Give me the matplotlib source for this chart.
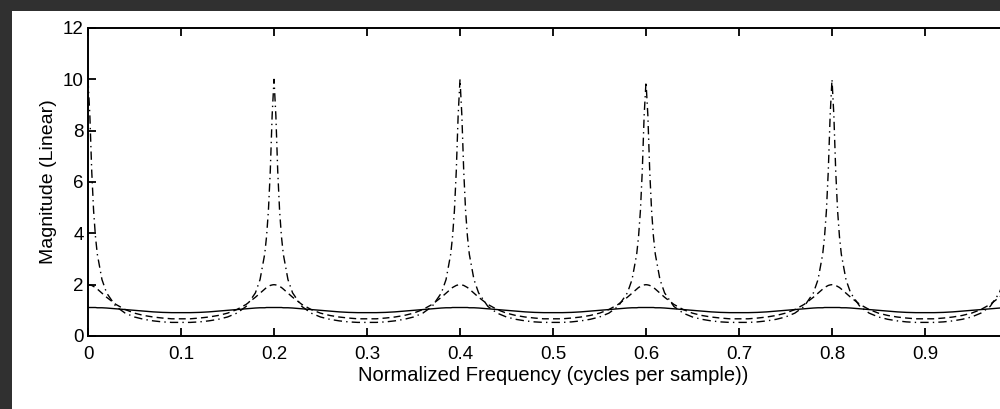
import matplotlib
matplotlib.use("Agg")
import matplotlib.pyplot as plt
from matplotlib.patches import Rectangle

# Frequency grid (cycles per sample), read per period
freq = [
    0.000, 0.002, 0.004, 0.006, 0.008, 0.010, 0.015, 0.020, 0.030, 0.040,
    0.050, 0.060, 0.070, 0.080, 0.090, 0.100, 0.110, 0.120, 0.130, 0.140,
    0.150, 0.160, 0.170, 0.180, 0.185, 0.190, 0.192, 0.194, 0.196, 0.198,
    0.200, 0.202, 0.204, 0.206, 0.208, 0.210, 0.215, 0.220, 0.230, 0.240,
    0.250, 0.260, 0.270, 0.280, 0.290, 0.300, 0.310, 0.320, 0.330, 0.340,
    0.350, 0.360, 0.370, 0.380, 0.385, 0.390, 0.392, 0.394, 0.396, 0.398,
    0.400, 0.402, 0.404, 0.406, 0.408, 0.410, 0.415, 0.420, 0.430, 0.440,
    0.450, 0.460, 0.470, 0.480, 0.490, 0.500, 0.510, 0.520, 0.530, 0.540,
    0.550, 0.560, 0.570, 0.580, 0.585, 0.590, 0.592, 0.594, 0.596, 0.598,
    0.600, 0.602, 0.604, 0.606, 0.608, 0.610, 0.615, 0.620, 0.630, 0.640,
    0.650, 0.660, 0.670, 0.680, 0.690, 0.700, 0.710, 0.720, 0.730, 0.740,
    0.750, 0.760, 0.770, 0.780, 0.785, 0.790, 0.792, 0.794, 0.796, 0.798,
    0.800, 0.802, 0.804, 0.806, 0.808, 0.810, 0.815, 0.820, 0.830, 0.840,
    0.850, 0.860, 0.870, 0.880, 0.890, 0.900, 0.910, 0.920, 0.930, 0.940,
    0.950, 0.960, 0.970, 0.980, 0.985, 0.990, 0.992, 0.994, 0.996, 0.998,
    1.000,
]

# Solid curve (small ripple around 1)
mag_solid = [
    1.11, 1.11, 1.11, 1.11, 1.11, 1.10, 1.10, 1.09, 1.06, 1.03,
    1.00, 0.97, 0.94, 0.92, 0.91, 0.91, 0.91, 0.92, 0.94, 0.97,
    1.00, 1.03, 1.06, 1.09, 1.10, 1.10, 1.11, 1.11, 1.11, 1.11,
    1.11, 1.11, 1.11, 1.11, 1.11, 1.10, 1.10, 1.09, 1.06, 1.03,
    1.00, 0.97, 0.94, 0.92, 0.91, 0.91, 0.91, 0.92, 0.94, 0.97,
    1.00, 1.03, 1.06, 1.09, 1.10, 1.10, 1.11, 1.11, 1.11, 1.11,
    1.11, 1.11, 1.11, 1.11, 1.11, 1.10, 1.10, 1.09, 1.06, 1.03,
    1.00, 0.97, 0.94, 0.92, 0.91, 0.91, 0.91, 0.92, 0.94, 0.97,
    1.00, 1.03, 1.06, 1.09, 1.10, 1.10, 1.11, 1.11, 1.11, 1.11,
    1.11, 1.11, 1.11, 1.11, 1.11, 1.10, 1.10, 1.09, 1.06, 1.03,
    1.00, 0.97, 0.94, 0.92, 0.91, 0.91, 0.91, 0.92, 0.94, 0.97,
    1.00, 1.03, 1.06, 1.09, 1.10, 1.10, 1.11, 1.11, 1.11, 1.11,
    1.11, 1.11, 1.11, 1.11, 1.11, 1.10, 1.10, 1.09, 1.06, 1.03,
    1.00, 0.97, 0.94, 0.92, 0.91, 0.91, 0.91, 0.92, 0.94, 0.97,
    1.00, 1.03, 1.06, 1.09, 1.10, 1.10, 1.11, 1.11, 1.11, 1.11,
    1.11,
]

# Dashed curve (peaks near 2)
mag_dashed = [
    2.00, 1.99, 1.97, 1.93, 1.89, 1.83, 1.67, 1.51, 1.23, 1.03,
    0.89, 0.80, 0.74, 0.70, 0.67, 0.67, 0.67, 0.70, 0.74, 0.80,
    0.89, 1.03, 1.23, 1.51, 1.67, 1.83, 1.89, 1.93, 1.97, 1.99,
    2.00, 1.99, 1.97, 1.93, 1.89, 1.83, 1.67, 1.51, 1.23, 1.03,
    0.89, 0.80, 0.74, 0.70, 0.67, 0.67, 0.67, 0.70, 0.74, 0.80,
    0.89, 1.03, 1.23, 1.51, 1.67, 1.83, 1.89, 1.93, 1.97, 1.99,
    2.00, 1.99, 1.97, 1.93, 1.89, 1.83, 1.67, 1.51, 1.23, 1.03,
    0.89, 0.80, 0.74, 0.70, 0.67, 0.67, 0.67, 0.70, 0.74, 0.80,
    0.89, 1.03, 1.23, 1.51, 1.67, 1.83, 1.89, 1.93, 1.97, 1.99,
    2.00, 1.99, 1.97, 1.93, 1.89, 1.83, 1.67, 1.51, 1.23, 1.03,
    0.89, 0.80, 0.74, 0.70, 0.67, 0.67, 0.67, 0.70, 0.74, 0.80,
    0.89, 1.03, 1.23, 1.51, 1.67, 1.83, 1.89, 1.93, 1.97, 1.99,
    2.00, 1.99, 1.97, 1.93, 1.89, 1.83, 1.67, 1.51, 1.23, 1.03,
    0.89, 0.80, 0.74, 0.70, 0.67, 0.67, 0.67, 0.70, 0.74, 0.80,
    0.89, 1.03, 1.23, 1.51, 1.67, 1.83, 1.89, 1.93, 1.97, 1.99,
    2.00,
]

# Dash-dot curve (sharp peaks near 10)
mag_dashdot = [
    10.0, 8.59, 6.43, 4.89, 3.88, 3.19, 2.20, 1.68, 1.15, 0.89,
    0.74, 0.65, 0.59, 0.55, 0.53, 0.53, 0.53, 0.55, 0.59, 0.65,
    0.74, 0.89, 1.15, 1.68, 2.20, 3.19, 3.88, 4.89, 6.43, 8.59,
    10.0, 8.59, 6.43, 4.89, 3.88, 3.19, 2.20, 1.68, 1.15, 0.89,
    0.74, 0.65, 0.59, 0.55, 0.53, 0.53, 0.53, 0.55, 0.59, 0.65,
    0.74, 0.89, 1.15, 1.68, 2.20, 3.19, 3.88, 4.89, 6.43, 8.59,
    10.0, 8.59, 6.43, 4.89, 3.88, 3.19, 2.20, 1.68, 1.15, 0.89,
    0.74, 0.65, 0.59, 0.55, 0.53, 0.53, 0.53, 0.55, 0.59, 0.65,
    0.74, 0.89, 1.15, 1.68, 2.20, 3.19, 3.88, 4.89, 6.43, 8.59,
    9.90, 8.59, 6.43, 4.89, 3.88, 3.19, 2.20, 1.68, 1.15, 0.89,
    0.74, 0.65, 0.59, 0.55, 0.53, 0.53, 0.53, 0.55, 0.59, 0.65,
    0.74, 0.89, 1.15, 1.68, 2.20, 3.19, 3.88, 4.89, 6.43, 8.59,
    10.0, 8.59, 6.43, 4.89, 3.88, 3.19, 2.20, 1.68, 1.15, 0.89,
    0.74, 0.65, 0.59, 0.55, 0.53, 0.53, 0.53, 0.55, 0.59, 0.65,
    0.74, 0.89, 1.15, 1.68, 2.20, 3.19, 3.88, 4.89, 6.43, 8.59,
    10.0,
]

x_ticks = [0, 0.1, 0.2, 0.3, 0.4, 0.5, 0.6, 0.7, 0.8, 0.9]
x_ticklabels = ["0", "0.1", "0.2", "0.3", "0.4", "0.5", "0.6", "0.7", "0.8", "0.9"]
y_ticks = [0, 2, 4, 6, 8, 10, 12]
y_ticklabels = ["0", "2", "4", "6", "8", "10", "12"]

plt.rcParams["font.family"] = ["Liberation Sans", "DejaVu Sans"]

W, H = 1000, 409
fig = plt.figure(figsize=(W / 100, H / 100), dpi=100)
fig.patch.set_facecolor("#303030")
# white figure panel
fig.patches.append(Rectangle((12 / W, 0), 1 - 12 / W, 1 - 11 / H,
                             transform=fig.transFigure, facecolor="white",
                             edgecolor="none", zorder=-5))

# axes in pixel coords: x 0 -> 88, x 1 -> 1018 ; y 12 -> 28, y 0 -> 336
left = 88 / W
width = 930 / W
bottom = (H - 336) / H
height = (336 - 28) / H
ax = fig.add_axes([left, bottom, width, height])
ax.set_facecolor("white")
ax.set_zorder(2)

lw = 1.0
ax.plot(freq, mag_solid, color="black", lw=lw, linestyle="-")
ax.plot(freq, mag_dashed, color="black", lw=lw, linestyle=(0, (5, 3)))
ax.plot(freq, mag_dashdot, color="black", lw=lw, linestyle=(0, (6, 3, 1, 3)))

ax.set_xlim(0, 1)
ax.set_ylim(0, 12)
ax.set_xticks(x_ticks)
ax.set_xticklabels(x_ticklabels)
ax.set_yticks(y_ticks)
ax.set_yticklabels(y_ticklabels)
ax.tick_params(direction="in", top=True, right=True, length=6, width=1.3,
               labelsize=13.5, colors="black")
ax.tick_params(axis="x", pad=7.5)
ax.tick_params(axis="y", pad=3)
for s in ax.spines.values():
    s.set_linewidth(1.4)
    s.set_color("black")

ax.set_xlabel("Normalized Frequency (cycles per sample))", fontsize=14.5, labelpad=2)
ax.set_ylabel("Magnitude (Linear)", fontsize=14, labelpad=4)

fig.savefig("out.png", dpi=100, facecolor=fig.get_facecolor())
